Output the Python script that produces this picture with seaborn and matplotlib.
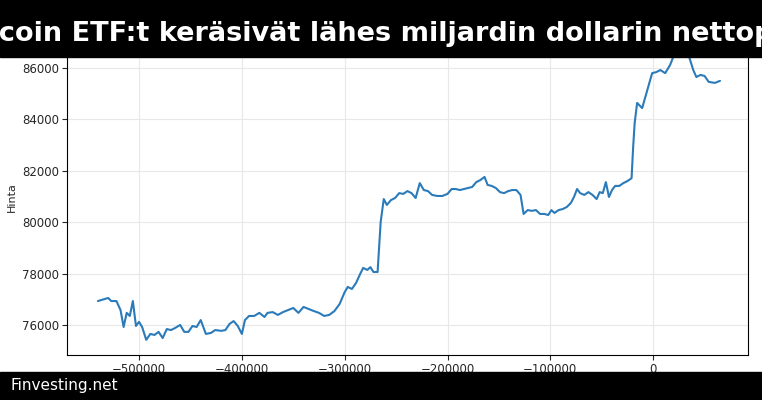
import matplotlib
matplotlib.use("Agg")
import matplotlib.pyplot as plt
import seaborn as sns
import pandas as pd

xs = [-540000,-530000,-527000,-522000,-518000,-515000,-512000,-509000,-506000,-503000,-500000,-497000,-493000,-489000,-485000,-481000,-477000,-473000,-469000,-465000,-460000,-456000,-452000,-448000,-444000,-440000,-435000,-430000,-426000,-420000,-416000,-412000,-408000,-404000,-400000,-397000,-393000,-388000,-383000,-378000,-375000,-370000,-365000,-360000,-355000,-350000,-345000,-340000,-335000,-330000,-325000,-320000,-315000,-310000,-305000,-300000,-297000,-293000,-289000,-285000,-282000,-278000,-275000,-272000,-268000,-265000,-262000,-259000,-255000,-251000,-247000,-243000,-239000,-235000,-231000,-227000,-223000,-219000,-215000,-210000,-205000,-200000,-196000,-192000,-188000,-184000,-180000,-176000,-172000,-168000,-164000,-161000,-157000,-153000,-149000,-145000,-141000,-137000,-133000,-129000,-126000,-122000,-118000,-114000,-110000,-106000,-102000,-99000,-96000,-92000,-88000,-84000,-80000,-77000,-74000,-71000,-67000,-63000,-59000,-55000,-52000,-49000,-46000,-43000,-40000,-37000,-33000,-29000,-25000,-21000,-19500,-18000,-15600,-10700,-4900,-1000,3000,7000,11700,16500,19500,22000,27000,32000,35000,39000,42000,46000,50000,54000,60000,65000]
prices = [76930,77050,76930,76930,76580,75920,76470,76350,76930,75960,76120,75920,75420,75650,75610,75730,75490,75840,75800,75880,76000,75730,75730,75960,75920,76190,75650,75690,75800,75770,75800,76040,76150,75960,75650,76190,76350,76350,76470,76310,76470,76500,76390,76500,76580,76660,76470,76700,76620,76540,76470,76350,76390,76540,76810,77280,77480,77400,77630,77980,78220,78140,78250,78060,78060,80010,80900,80670,80860,80940,81130,81100,81210,81130,80940,81520,81250,81210,81060,81020,81020,81100,81290,81290,81250,81290,81330,81370,81560,81640,81760,81450,81410,81330,81170,81130,81210,81250,81250,81060,80320,80470,80440,80470,80320,80320,80280,80470,80360,80470,80510,80590,80750,80980,81290,81130,81060,81170,81060,80900,81170,81130,81560,80980,81250,81410,81410,81520,81600,81710,82900,83860,84640,84440,85260,85800,85840,85920,85800,86120,86430,86900,87200,87000,86430,85920,85650,85730,85690,85460,85420,85500]
title = "Bitcoin ETF:t keräsivät lähes miljardin dollarin nettopanostukset"
source = "Finvesting.net"

df = pd.DataFrame({"x": xs, "Hinta": prices})
sns.set_style("whitegrid")
plt.rcParams['font.family'] = ['DejaVu Sans']
fig = plt.figure(figsize=(7.62, 4.0), dpi=100)
ax = fig.add_axes([0.088, 0.1125, 0.894, 0.7875])
sns.lineplot(data=df, x="x", y="Hinta", ax=ax, color="#2b7bba", linewidth=1.5)
ax.set_xlim(-570000, 92500)
ax.set_ylim(74830, 87090)
ax.set_xlabel("")
ax.set_ylabel("Hinta", fontsize=8)
ax.tick_params(labelsize=8.5, length=3.5, pad=2, left=True, bottom=True)
ax.grid(color="#e8e8e8", linewidth=0.8)
for s in ax.spines.values():
    s.set_color("black"); s.set_linewidth(0.8)
fig.patches.append(plt.Rectangle((0, 0.8575), 1, 0.1425, transform=fig.transFigure, color="black", zorder=5))
fig.patches.append(plt.Rectangle((0, 0), 1, 0.07, transform=fig.transFigure, color="black", zorder=5))
fig.text(-0.058, 0.915, title, ha="left", va="center", color="white", fontsize=19.5, fontweight="bold", zorder=6)
fig.text(0.014, 0.037, source, ha="left", va="center", color="white", fontsize=11, zorder=6)
fig.savefig("out.png", dpi=100)
